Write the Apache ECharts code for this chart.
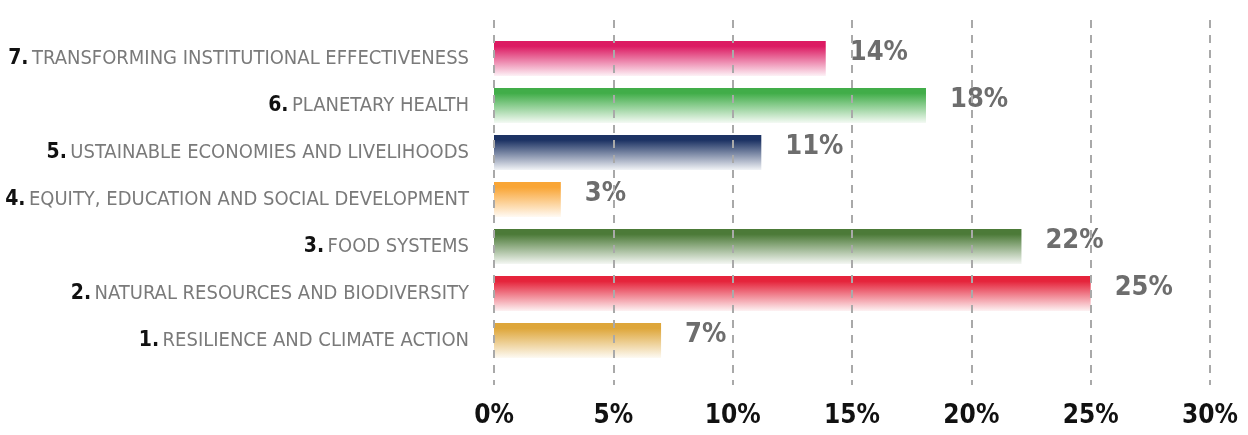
<!DOCTYPE html>
<html>
<head>
<meta charset="utf-8">
<script src="https://cdn.jsdelivr.net/npm/echarts@6/dist/echarts.min.js"></script>
<style>
  html, body { margin: 0; padding: 0; background: #fff; }
  #chart { width: 1248px; height: 435px; }
</style>
</head>
<body>
<div id="chart"></div>
<script>
// bottom -> top, as the category axis lists them
const goalNumbers = ["1", "2", "3", "4", "5", "6", "7"];
const goalNames = [
  "RESILIENCE AND CLIMATE ACTION",
  "NATURAL RESOURCES AND BIODIVERSITY",
  "FOOD SYSTEMS",
  "EQUITY, EDUCATION AND SOCIAL DEVELOPMENT",
  "USTAINABLE ECONOMIES AND LIVELIHOODS",
  "PLANETARY HEALTH",
  "TRANSFORMING INSTITUTIONAL EFFECTIVENESS",
];
const shares = [7.0, 25.0, 22.1, 2.8, 11.2, 18.1, 13.9];
const xTicks = [0, 5, 10, 15, 20, 25, 30];

const barColors = ["#dea63a", "#e5243b", "#4c7a38", "#f9a535", "#1d3364", "#41ad49", "#dc1a62"];

const FONT = '"DejaVu Sans Condensed", "Liberation Sans Narrow", sans-serif';

const chart = echarts.init(document.getElementById("chart"));

// colour -> near white, top to bottom
const fade = (c) =>
  new echarts.graphic.LinearGradient(0, 0, 0, 1, [
    { offset: 0, color: c },
    { offset: 0.15, color: c },
    { offset: 1, color: echarts.color.lerp(0.94, [c, "#ffffff"]) },
  ]);

const option = {
  animation: false,
  grid: [
    // dashed guide lines + tick labels
    { left: 494, right: 38, top: 20, bottom: 50, outerBoundsMode: "none" },
    // the bars
    { left: 494, right: 38, top: 35, height: 329, outerBoundsMode: "none" },
  ],
  xAxis: [
    {
      gridIndex: 0,
      type: "value",
      min: xTicks[0],
      max: xTicks[xTicks.length - 1],
      interval: 5,
      z: 5,
      axisLine: { show: false },
      axisTick: { show: false },
      splitLine: {
        show: true,
        lineStyle: { color: "#a9a9a9", width: 2, type: [8, 7] },
      },
      axisLabel: {
        margin: 18,
        color: "#111",
        fontFamily: FONT,
        fontWeight: "bold",
        fontSize: 26,
        formatter: "{value}%",
      },
    },
    {
      gridIndex: 1,
      type: "value",
      min: xTicks[0],
      max: xTicks[xTicks.length - 1],
      show: false,
      splitLine: { show: false },
    },
  ],
  yAxis: [
    { gridIndex: 0, type: "value", show: false },
    {
      gridIndex: 1,
      type: "category",
      data: goalNames,
      axisLine: { show: false },
      axisTick: { show: false },
      axisLabel: {
        margin: 25,
        fontFamily: FONT,
        formatter: (v, i) => `{n|${goalNumbers[i]}.} {t|${v}}`,
        rich: {
          n: { fontFamily: FONT, fontWeight: "bold", fontSize: 21, color: "#111" },
          t: { fontFamily: FONT, fontSize: 20, color: "#7a7a7a" },
        },
      },
    },
  ],
  series: [
    {
      type: "bar",
      xAxisIndex: 1,
      yAxisIndex: 1,
      barWidth: 35,
      data: shares.map((v, i) => ({ value: v, itemStyle: { color: fade(barColors[i]) } })),
      label: {
        show: true,
        position: "right",
        distance: 24,
        offset: [0, -6],
        fontFamily: FONT,
        fontWeight: "bold",
        fontSize: 27,
        color: "#6d6d6d",
        formatter: (p) => Math.round(p.value) + "%",
      },
    },
  ],
};

chart.setOption(option);
</script>
</body>
</html>
